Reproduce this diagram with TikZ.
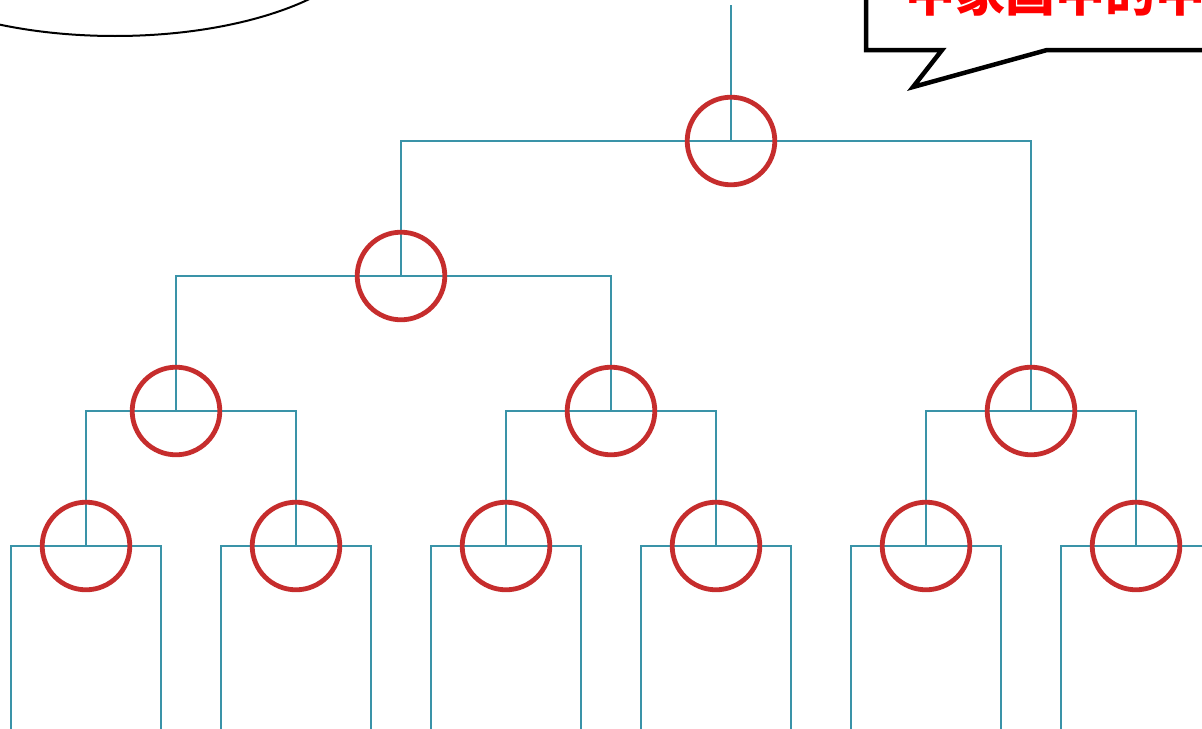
\documentclass[tikz,border=0pt]{standalone}
\usepackage{fontspec}
\newfontfamily\cjk{Noto Sans CJK SC}
\usetikzlibrary{backgrounds}
\definecolor{teal}{HTML}{3A93A8}
\definecolor{ringred}{HTML}{C62D2D}
\tikzset{
  ring/.style={circle,draw=ringred,line width=2.4pt,minimum size=43.8pt,inner sep=0pt,outer sep=0pt},
  link/.style={draw=teal,line width=1pt,line join=miter},
}
\begin{document}
\begin{tikzpicture}[x=0.5pt,y=-0.5pt]
\useasboundingbox (0,0) rectangle (1202,728);
\clip (0,0) rectangle (1202,728);
% ellipse top-left
\draw[line width=1pt,black] (115,-74) ellipse [x radius=260, y radius=110];
% callout
\draw[line width=2.25pt,fill=white,line join=miter] (866,-20) -- (866,50) -- (942,50) -- (913,87) -- (1047,50) -- (1230,50) -- (1230,-20);
\node[anchor=base west,inner sep=0pt,text=red,font=\cjk\bfseries\fontsize{25}{30}\selectfont] (cap) at (905,11) {中家国中的中部};
% circles
\node[ring] (r) at (731,141) {};
\node[ring] (b) at (401,276) {};
\node[ring] (c1) at (176,411) {};
\node[ring] (c2) at (611,411) {};
\node[ring] (c3) at (1031,411) {};
\node[ring] (d1) at (86,546) {};
\node[ring] (d2) at (296,546) {};
\node[ring] (d3) at (506,546) {};
\node[ring] (d4) at (716,546) {};
\node[ring] (d5) at (926,546) {};
\node[ring] (d6) at (1136,546) {};
\coordinate (top) at (731,5);
\foreach \n/\x in {d1/86,d2/296,d3/506,d4/716,d5/926,d6/1136}{
  \coordinate (\n L) at (\x-75,740);
  \coordinate (\n R) at (\x+75,740);
}
\begin{pgfonlayer}{background}
\path[link] (top) -- (r.center);
\path[link] (b.center) |- (r.center) -| (c3.center);
\path[link] (c1.center) |- (b.center) -| (c2.center);
\path[link] (d1.center) |- (c1.center) -| (d2.center);
\path[link] (d3.center) |- (c2.center) -| (d4.center);
\path[link] (d5.center) |- (c3.center) -| (d6.center);
\foreach \n in {d1,d2,d3,d4,d5,d6}{
  \path[link] (\n L) |- (\n.center) -| (\n R);
}
\end{pgfonlayer}
\end{tikzpicture}
\end{document}
